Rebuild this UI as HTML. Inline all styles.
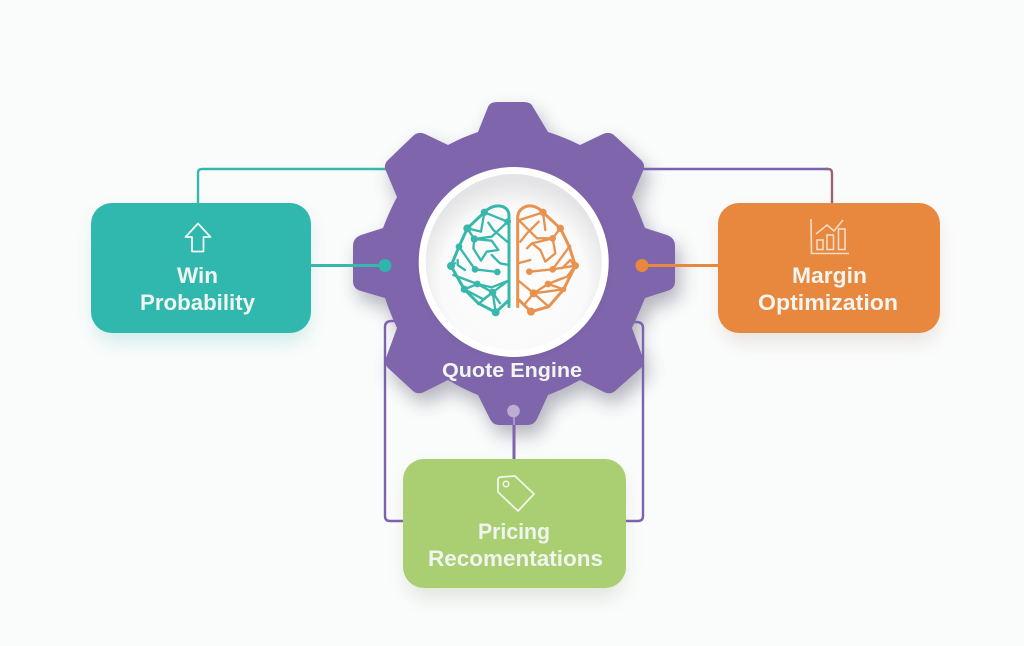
<!DOCTYPE html>
<html>
<head>
<meta charset="utf-8">
<style>
html,body{margin:0;padding:0;width:1024px;height:646px;overflow:hidden;background:#fafbfb}
svg{display:block}
text{font-family:"Liberation Sans",sans-serif;font-weight:bold;text-anchor:middle;fill:#f1f5ef}
</style>
</head>
<body>
<svg width="1024" height="646" viewBox="0 0 1024 646" xmlns="http://www.w3.org/2000/svg">
<defs>
<filter id="b1" x="-30%" y="-30%" width="160%" height="160%"><feGaussianBlur stdDeviation="9"/></filter>
<filter id="b2" x="-30%" y="-30%" width="160%" height="160%"><feGaussianBlur stdDeviation="3"/></filter>
<filter id="s" x="-5%" y="-5%" width="110%" height="110%"><feGaussianBlur stdDeviation="0.45"/></filter>
<radialGradient id="disc" cx="50%" cy="60%" r="56%">
<stop offset="0" stop-color="#fdfdfd"/><stop offset=".74" stop-color="#fafafa"/><stop offset="1" stop-color="#e4e4e6"/>
</radialGradient>
<path id="gear" d="M478 132 L488 107 Q490 102 497 102 L524 102 Q531 102 533 107 L548 132 Q564 137 580 145 L603 134 Q610 131 615 136 L641 160 Q646 165 643 171 L632 197 Q639 212 645 228 L667 235 Q675 238 675 246 L675 281 Q675 289 667 291 L645 298 Q639 313 632 328 L643 358 Q645 364 641 368 L615 391 Q610 395 604 392 L580 380 Q564 389 548 395 L537 419 Q534 425 528 425 L499 425 Q493 425 490 419 L478 395 Q463 389 448 380 L424 392 Q418 395 413 391 L388 368 Q384 364 386 358 L397 328 Q390 313 385 298 L361 291 Q353 289 353 281 L353 246 Q353 238 361 235 L383 228 Q389 212 397 197 L386 171 Q383 165 388 160 L413 136 Q418 131 425 134 L448 145 Q463 137 478 132 Z"/>
</defs>

<!-- soft shadows -->
<rect x="95" y="214" width="214" height="128" rx="20" fill="#2fb5ab" opacity=".2" filter="url(#b1)"/>
<rect x="722" y="214" width="216" height="128" rx="20" fill="#b9a38e" opacity=".26" filter="url(#b1)"/>
<rect x="407" y="470" width="216" height="128" rx="20" fill="#a9b898" opacity=".3" filter="url(#b1)"/>
<use href="#gear" fill="#55556a" opacity=".42" transform="translate(5 10)" filter="url(#b1)"/>

<!-- connectors behind -->
<g fill="none" stroke-width="2.4">
<path d="M198 204 L198 173 Q198 169 202 169 L390 169" stroke="#38b8ad"/>
<path d="M640 169 L828 169" stroke="#7d62ae"/>
<path d="M826 169 L828 169 Q832 169 832 173 L832 204" stroke="#9a6672"/>
<path d="M404 521 L390 521 Q385 521 385 516 L385 327 Q385 321 392 321 L400 321" stroke="#7d62ae"/>
<path d="M625 521 L638 521 Q643 521 643 516 L643 328 Q643 322 636 322 L628 322" stroke="#7d62ae"/>
<path d="M514 420 L514 460" stroke="#7d62ae" stroke-width="3"/>
</g>

<!-- gear -->
<use href="#gear" fill="#7f66ac"/>

<!-- centre disc -->
<circle cx="514" cy="264" r="94" fill="#5e4c86" opacity=".25" filter="url(#b2)"/>
<circle cx="513.7" cy="262" r="95" fill="#ffffff"/>
<circle cx="513.7" cy="262" r="88" fill="url(#disc)"/>

<!-- brain left -->
<g transform="translate(445 200) scale(.33333)" filter="url(#s)">
<g fill="none" stroke="#38b8ad" stroke-width="7" stroke-linejoin="round" stroke-linecap="round">
<path stroke-width="9" d="M192 320 L192 45 Q190 22 165 18 Q140 15 118 37 L67 85 L42 140 L18 198 L58 268 L100 310 L152 337 L192 300"/>
<path d="M118 37 L188 65 L140 110 L88 117 M130 68 L145 90 L190 128 M118 37 L108 95 L67 85 L88 117 L85 145 L108 182 L125 155 L160 150 L140 122 L88 117"/>
<path d="M42 140 L90 208 L157 216 M140 165 L165 190 L192 195 M38 180 L38 195 L60 210 M18 198 L30 190"/>
<path d="M25 225 L97 252 L143 277 L192 240 M97 252 L140 262 L188 243 M58 268 L97 252 M58 268 L115 298 L143 277 L165 310 M143 277 L100 312 M143 277 L152 337"/>
</g>
<g fill="#38b8ad">
<circle cx="118" cy="37" r="11"/><circle cx="188" cy="65" r="10"/><circle cx="67" cy="85" r="12"/><circle cx="88" cy="117" r="11"/><circle cx="42" cy="140" r="10"/><circle cx="18" cy="198" r="12"/><circle cx="90" cy="208" r="10"/><circle cx="157" cy="216" r="10"/><circle cx="97" cy="252" r="10"/><circle cx="58" cy="268" r="11"/><circle cx="143" cy="277" r="11"/><circle cx="152" cy="337" r="12"/>
</g>
</g>

<!-- brain right -->
<g transform="translate(512 200) scale(.33333)" filter="url(#s)">
<g fill="none" stroke="#e8924f" stroke-width="7" stroke-linejoin="round" stroke-linecap="round">
<path stroke-width="9" d="M17 320 L17 50 Q20 24 48 18 Q72 15 93 37 L145 85 L172 140 L190 197 L155 268 L110 320 L57 335 L17 296"/>
<path d="M17 62 L93 37 M20 60 L75 115 M80 65 L45 100 L25 125 M93 37 L100 90 M145 85 L122 115 L75 115 M122 115 L130 160 L100 185 L85 150 L60 130 L45 145 M60 130 L122 115"/>
<path d="M52 215 L122 208 L190 197 M122 208 L172 140 M150 205 L175 180 L185 195 M17 190 L55 180"/>
<path d="M190 197 L165 230 L108 252 L65 280 L17 240 M65 280 L155 268 M108 252 L155 268 M65 280 L110 320 M65 280 L40 310 M150 235 L108 252"/>
</g>
<g fill="#e8924f">
<circle cx="93" cy="37" r="11"/><circle cx="145" cy="85" r="11"/><circle cx="122" cy="115" r="10"/><circle cx="172" cy="140" r="6"/><circle cx="190" cy="197" r="11"/><circle cx="122" cy="208" r="10"/><circle cx="52" cy="215" r="10"/><circle cx="108" cy="252" r="10"/><circle cx="155" cy="268" r="8"/><circle cx="65" cy="280" r="12"/><circle cx="57" cy="335" r="12"/>
</g>
</g>

<!-- gear dots and lines over gear -->
<path d="M311 265.500 L385 265.500" stroke="#38b8ad" stroke-width="3" fill="none"/>
<path d="M642 265.500 L718 265.500" stroke="#e8873e" stroke-width="3" fill="none"/>
<circle cx="385" cy="265.500" r="6.500" fill="#2fb5ab"/>
<circle cx="642" cy="265.500" r="6.500" fill="#e8873e"/>
<path d="M514 414 L514 425" stroke="#a896c8" stroke-width="2" fill="none"/>
<circle cx="513.500" cy="411" r="6.300" fill="#bcadd4"/>

<text x="512" y="377" font-size="20" textLength="140" lengthAdjust="spacingAndGlyphs">Quote Engine</text>

<!-- boxes -->
<rect x="91" y="203" width="220" height="130" rx="21" fill="#31b8ae"/>
<rect x="718" y="203" width="222" height="130" rx="21" fill="#e8873e"/>
<rect x="403" y="459" width="223" height="129" rx="21" fill="#a9cf72"/>

<!-- icons -->
<path d="M198 223.500 L185.500 237 L192 237 L192 251.500 L203.500 251.500 L203.500 237 L210.500 237 Z" fill="none" stroke="#eef7f4" stroke-width="1.800" stroke-linejoin="round"/>
<g fill="none" stroke="#f6dcc2" stroke-width="1.600">
<path d="M811 219 L811.500 253.500 L849 253.500"/>
<path d="M816 234 L827 225 L834 231 L843 220"/>
<rect x="817" y="240" width="6" height="9.500"/>
<rect x="827" y="235" width="6.500" height="14.500"/>
<rect x="838.500" y="229" width="6.500" height="20.500"/>
</g>
<path d="M498 480 Q498 477 501 477 L515 476 L534 494 L518 511 L498 492 Z" fill="none" stroke="#f2f7e8" stroke-width="1.800" stroke-linejoin="round"/>
<circle cx="506" cy="484" r="2.800" fill="none" stroke="#f2f7e8" stroke-width="1.500"/>

<!-- labels -->
<text x="197.500" y="283" font-size="22" textLength="41" lengthAdjust="spacingAndGlyphs">Win</text>
<text x="197.500" y="310" font-size="22" textLength="115" lengthAdjust="spacingAndGlyphs">Probability</text>
<text x="829.500" y="283" font-size="22" textLength="75" lengthAdjust="spacingAndGlyphs">Margin</text>
<text x="828" y="310" font-size="22" textLength="140" lengthAdjust="spacingAndGlyphs">Optimization</text>
<text x="514" y="539" font-size="22" textLength="72" lengthAdjust="spacingAndGlyphs">Pricing</text>
<text x="515.500" y="566" font-size="22" textLength="175" lengthAdjust="spacingAndGlyphs">Recomentations</text>
</svg>
</body>
</html>
